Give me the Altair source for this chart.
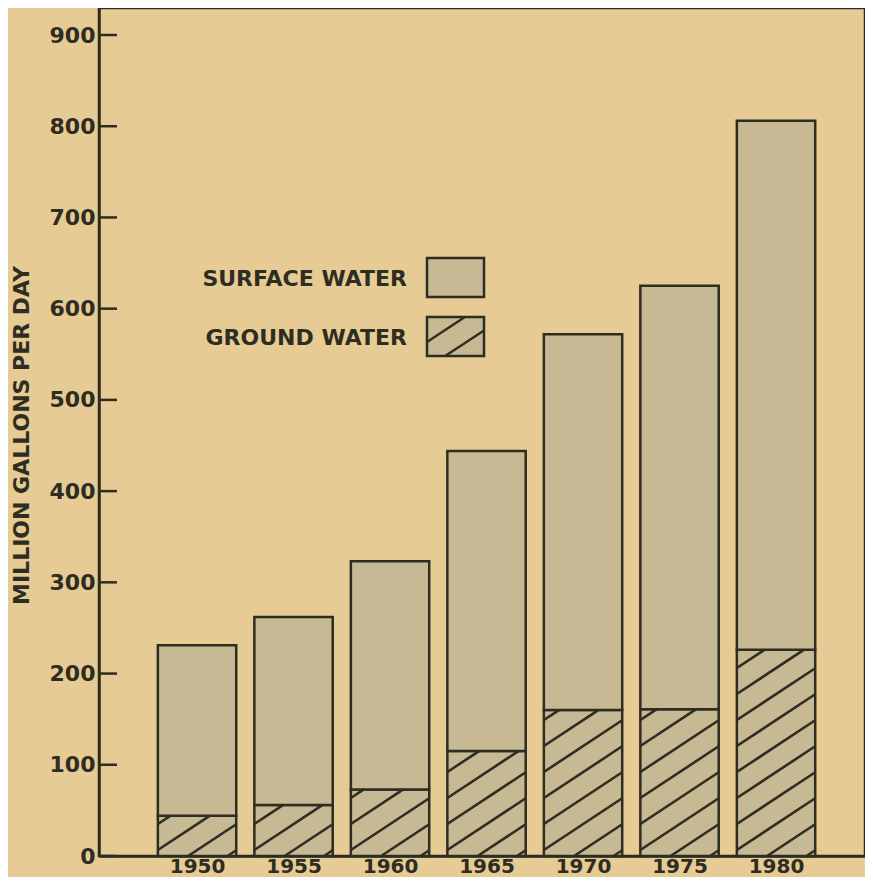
import altair as alt
import pandas as pd
import numpy as np

# ---- data ----
years = [1950, 1955, 1960, 1965, 1970, 1975, 1980]
ground_water = [44, 56, 73, 115, 160, 161, 226]
surface_water = [187, 206, 250, 329, 412, 464, 580]
y_ticks = [0, 100, 200, 300, 400, 500, 600, 700, 800, 900]
series_names = ["SURFACE WATER", "GROUND WATER"]

# ---- style / layout ----
INK = "#2e2d22"
BG = "#e6cb94"
FILL = "#c7b993"
FONT = "DejaVu Sans"
W, H = 766, 848
X_DOM = [1944.92, 1984.61]
Y_DOM = [0, 929.6]
BAR_HALF = 2.03          # half bar width, in years
HATCH_SLOPE = 0.66       # px rise per px run
HATCH_GAP = 26           # vertical px between hatch lines
kx = W / (X_DOM[1] - X_DOM[0])
ky = H / (Y_DOM[1] - Y_DOM[0])

xs = alt.Scale(domain=X_DOM, nice=False, zero=False)
ys = alt.Scale(domain=Y_DOM, nice=False, zero=False)

x_axis = alt.Axis(
    values=years, format="d", title=None, ticks=False, grid=False,
    labelFont=FONT, labelFontSize=20, labelFontWeight="bold", labelColor=INK,
    labelPadding=0, domainColor=INK, domainWidth=2.5, labelFlush=False)
y_axis = alt.Axis(
    values=y_ticks, title="MILLION GALLONS PER DAY", ticks=False, grid=False,
    labelFont=FONT, labelFontSize=22, labelFontWeight="bold", labelColor=INK,
    labelPadding=4, domainColor=INK, domainWidth=2.5, labelFlush=False,
    titleFont=FONT, titleFontSize=22, titleFontWeight="bold", titleColor=INK,
    titleAngle=-90, titleX=-71, titleY=427, titleAlign="center",
    titleBaseline="alphabetic")


def hatch_segments(w, h, slope=HATCH_SLOPE, gap=HATCH_GAP, phase=6.0):
    """Segments of y = slope*x + b clipped to box [0,w]x[0,h] (y up), px units."""
    segs = []
    b = phase - np.ceil((slope * w + phase) / gap) * gap
    while b < h:
        x_lo = max(0.0, (0 - b) / slope)
        x_hi = min(w, (h - b) / slope)
        if x_hi - x_lo > 1:
            segs.append((x_lo, slope * x_lo + b, x_hi, slope * x_hi + b))
        b += gap
    return segs


# bars table
rows = []
for yr, g, s in zip(years, ground_water, surface_water):
    rows.append(dict(year=yr, series=series_names[1], x0=yr - BAR_HALF, x1=yr + BAR_HALF, y0=0, y1=g))
    rows.append(dict(year=yr, series=series_names[0], x0=yr - BAR_HALF, x1=yr + BAR_HALF, y0=g, y1=g + s))
bars_df = pd.DataFrame(rows)

# hatch lines for ground-water segments (derived from the data)
hrows = []
for yr, g in zip(years, ground_water):
    left = yr - BAR_HALF
    wpx = 2 * BAR_HALF * kx
    hpx = g * ky
    for (ax, ay, bx, by) in hatch_segments(wpx, hpx):
        hrows.append(dict(x0=left + ax / kx, y0=ay / ky, x1=left + bx / kx, y1=by / ky))
hatch_df = pd.DataFrame(hrows)

bars = alt.Chart(bars_df).mark_rect(fill=FILL, stroke=INK, strokeWidth=2.5).encode(
    x=alt.X("x0:Q", scale=xs, axis=x_axis),
    x2="x1:Q",
    y=alt.Y("y0:Q", scale=ys, axis=y_axis),
    y2="y1:Q",
)

hatch = alt.Chart(hatch_df).mark_rule(color=INK, strokeWidth=2.6).encode(
    x=alt.X("x0:Q", scale=xs, axis=x_axis),
    y=alt.Y("y0:Q", scale=ys, axis=y_axis),
    x2="x1:Q",
    y2="y1:Q",
)

ticks = alt.Chart(pd.DataFrame({"y0": y_ticks})).mark_rule(color=INK, strokeWidth=2.5).encode(
    y=alt.Y("y0:Q", scale=ys, axis=y_axis),
    x=alt.value(0),
    x2=alt.value(18),
)

# ---- custom legend ----
LEG_X0, LEG_X1 = 328, 385
LEG_Y0, LEG_H, LEG_STEP = 250, 39, 59
legend_layers = []
for i, name in enumerate(series_names):
    top = LEG_Y0 + i * LEG_STEP
    one = pd.DataFrame({"name": [name]})
    legend_layers.append(
        alt.Chart(one).mark_rect(fill=FILL, stroke=INK, strokeWidth=2.5).encode(
            x=alt.value(LEG_X0), x2=alt.value(LEG_X1),
            y=alt.value(top), y2=alt.value(top + LEG_H)))
    legend_layers.append(
        alt.Chart(one).mark_text(align="right", baseline="middle", font=FONT,
                                 fontSize=22, fontWeight="bold", color=INK).encode(
            text="name:N", x=alt.value(308), y=alt.value(top + LEG_H / 2 + 1)))

lrows = []
top = LEG_Y0 + LEG_STEP
for (ax, ay, bx, by) in hatch_segments(LEG_X1 - LEG_X0, LEG_H, phase=14.0):
    lrows.append(dict(px0=LEG_X0 + ax, py0=top + LEG_H - ay, px1=LEG_X0 + bx, py1=top + LEG_H - by))
leg_hatch = alt.Chart(pd.DataFrame(lrows)).mark_rule(color=INK, strokeWidth=2.4).encode(
    x=alt.X("px0:Q", scale=None), x2="px1:Q",
    y=alt.Y("py0:Q", scale=None), y2="py1:Q",
)

chart = alt.layer(bars, hatch, ticks, *legend_layers, leg_hatch).properties(
    width=W, height=H,
    autosize=alt.AutoSizeParams(type="none"),
    padding={"left": 91, "top": 0, "right": 0, "bottom": 21},
    background=BG,
).configure_view(stroke=INK, strokeWidth=2.5)

chart.save("out.html", embed_options={"renderer": "svg", "actions": False})
